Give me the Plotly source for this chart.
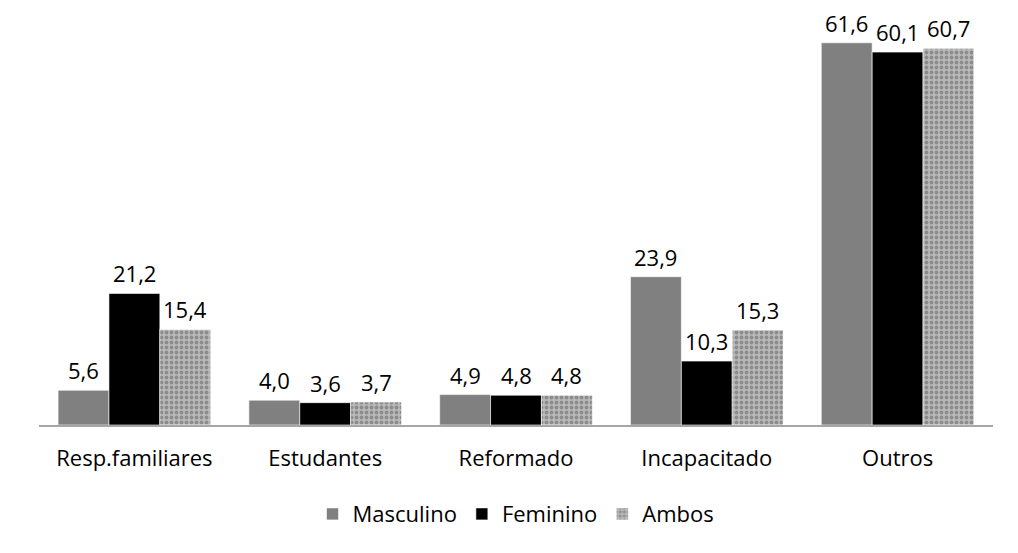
import plotly.graph_objects as go

categorias = ["Resp.familiares", "Estudantes", "Reformado", "Incapacitado", "Outros"]
masculino = [5.6, 4.0, 4.9, 23.9, 61.6]
feminino = [21.2, 3.6, 4.8, 10.3, 60.1]
ambos = [15.4, 3.7, 4.8, 15.3, 60.7]

fonte = dict(family="Open Sans, sans-serif", size=22, color="black")

# page body has an 8px margin, so the figure is 1002x537
W, H = 1002, 537
ml, mr, mt, mb = 31, 17, 12, 120
larg_barra = (W - ml - mr) / len(categorias) * 0.8 / 3

fig = go.Figure()
series = [
    ("Masculino", masculino, dict(color="#808080", line=dict(color="white", width=0.6))),
    ("Feminino", feminino, dict(color="black", line=dict(color="white", width=0.6))),
    ("Ambos", ambos, dict(color="#b5b5b5", line=dict(color="white", width=0.6),
                          pattern=dict(shape=".", fgcolor="#5e5e5e", bgcolor="#bababa",
                                       size=5, solidity=0.45))),
]
for i, (nome, valores, marcador) in enumerate(series):
    fig.add_trace(go.Bar(x=categorias, y=valores, name=nome, marker=marcador))
    for cat, v in zip(categorias, valores):
        fig.add_annotation(x=cat, y=v, text=f"{v:.1f}".replace(".", ","),
                           showarrow=False, yanchor="bottom", yshift=3,
                           xshift=(i - 1) * larg_barra, font=fonte)

fig.update_layout(
    width=W, height=H,
    barmode="group", bargap=0.2, bargroupgap=0,
    plot_bgcolor="white", paper_bgcolor="white",
    margin=dict(l=ml, r=mr, t=mt, b=mb, autoexpand=False),
    font=fonte,
    showlegend=True,
    legend=dict(orientation="h", x=0.5, xanchor="center", y=-0.22, yanchor="middle",
                font=fonte),
    xaxis=dict(showline=True, linecolor="#a6a6a6", linewidth=2, ticks="",
               tickfont=fonte, showgrid=False, ticklabelstandoff=13, automargin=False),
    yaxis=dict(visible=False, range=[0, 65.27], showgrid=False, automargin=False),
)

fig.write_html("out.html")
